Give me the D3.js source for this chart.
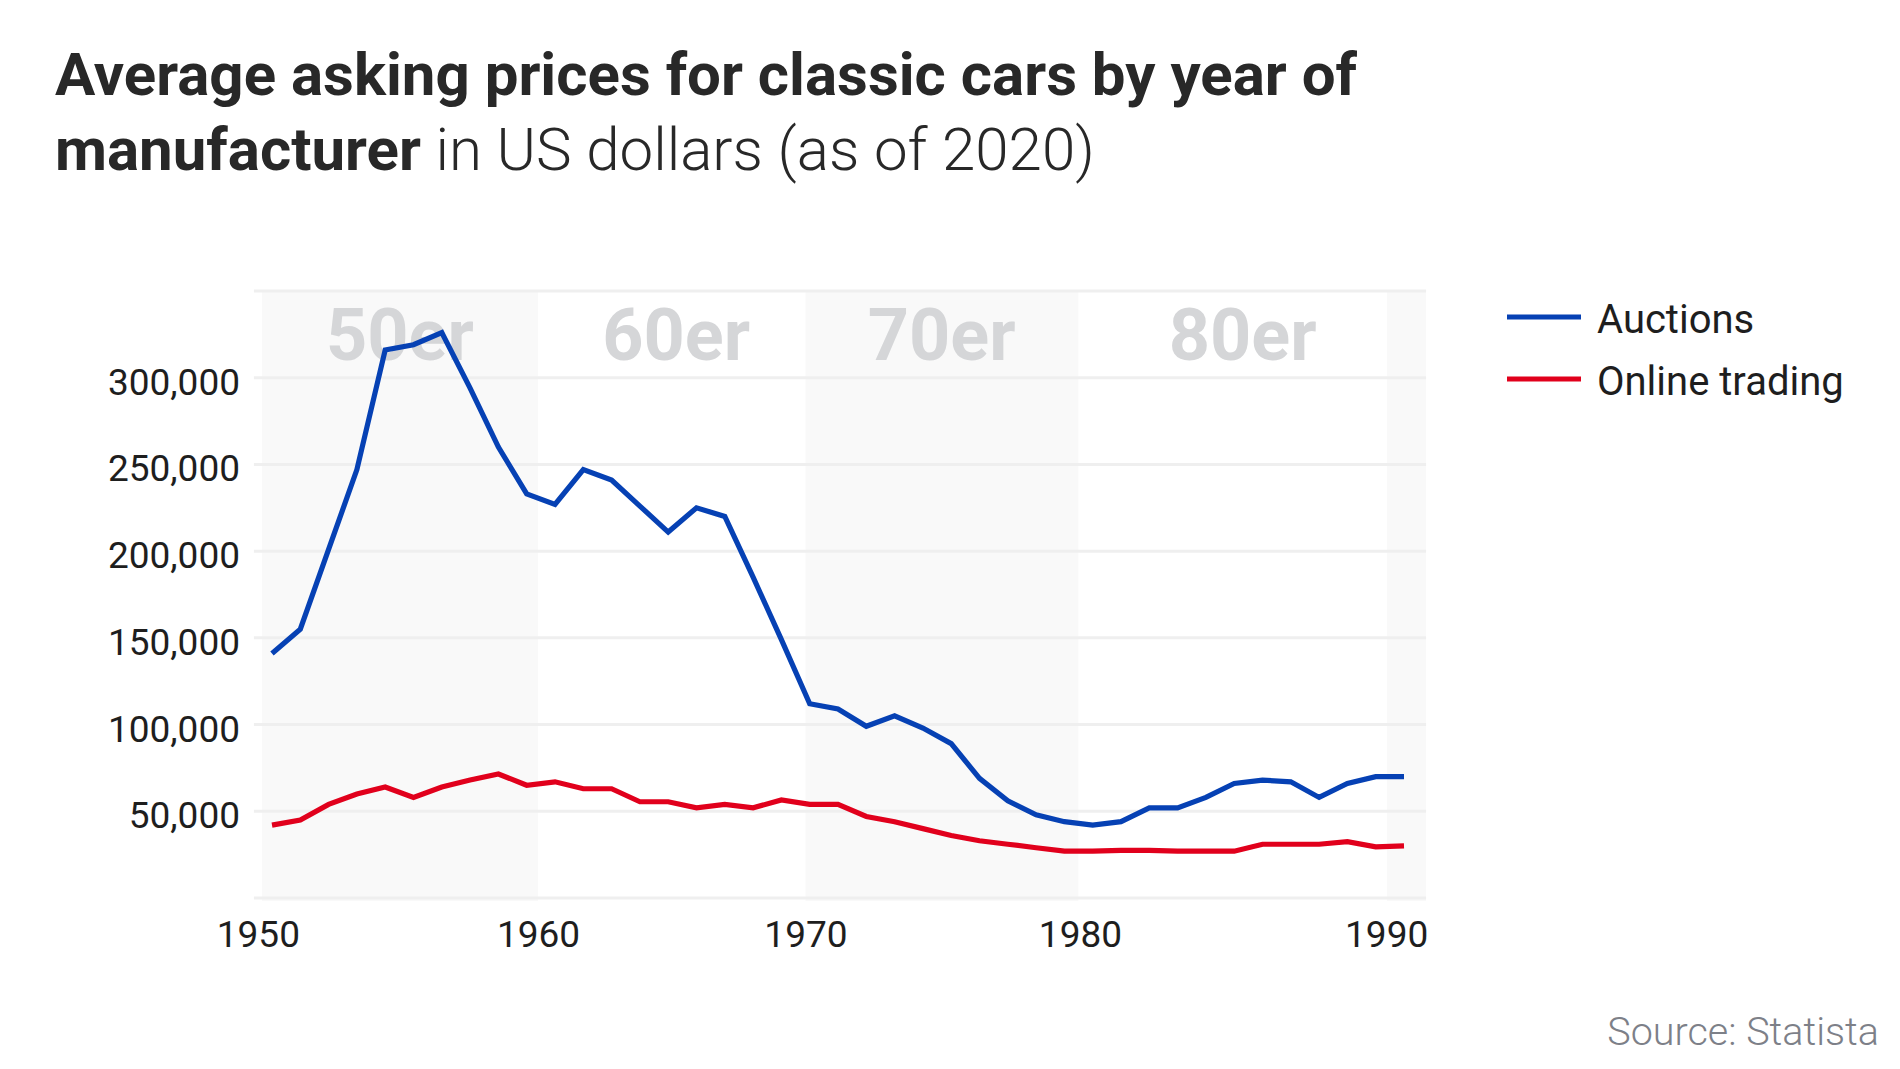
<!DOCTYPE html>
<html>
<head>
<meta charset="utf-8">
<script src="https://cdn.jsdelivr.net/npm/d3@7"></script>
<style>
  html, body { margin: 0; padding: 0; background: #fff; }
  svg { display: block; font-family: Roboto, "Noto Sans", sans-serif; }
</style>
</head>
<body>
<svg id="chart" width="1900" height="1069"></svg>
<script>
// ---- Data ----
const years = [1950,1951,1952,1953,1954,1955,1956,1957,1958,1959,
               1960,1961,1962,1963,1964,1965,1966,1967,1968,1969,
               1970,1971,1972,1973,1974,1975,1976,1977,1978,1979,
               1980,1981,1982,1983,1984,1985,1986,1987,1988,1989,1990];

const auctions = [141000,155000,201000,247000,316000,319000,326000,294000,260000,233000,
                  227000,247000,241000,226000,211000,225000,220000,185000,149000,112000,
                  109000,99000,105000,98000,89000,69000,56000,48000,44000,42000,
                  44000,52000,52000,58000,66000,68000,67000,58000,66000,70000,70000];

const onlineTrading = [42000,45000,54000,60000,64000,58000,64000,68000,71500,65000,
                       67000,63000,63000,55500,55500,52000,54000,52000,56500,54000,
                       54000,47000,44000,40000,36000,33000,31000,29000,27000,27000,
                       27500,27500,27000,27000,27000,31000,31000,31000,32500,29500,30000];

const seriesNames = ["Auctions", "Online trading"];
const seriesColors = ["#0641b4", "#e1001c"];

// decade bands (edges in year units) and their labels
const decadeEdges = [1949.65, 1959.4, 1968.85, 1978.5, 1989.4, 1990.78];
const decadeLabels = ["50er", "60er", "70er", "80er"];
const decadeLabelYears = [1954.52, 1964.28, 1973.66, 1984.3];

// x-axis tick positions (year units) and labels
const xTickValues = [1949.5, 1959.4, 1968.85, 1978.55, 1989.37];
const xTickLabels = ["1950", "1960", "1970", "1980", "1990"];

const yTickValues = [50000, 100000, 150000, 200000, 250000, 300000];
const yGridValues = [0, 50000, 100000, 150000, 200000, 250000, 300000, 350000];

// ---- Layout ----
const svg = d3.select("#chart");
const x = d3.scaleLinear().domain([1950, 1990]).range([272, 1404]);
const y = d3.scaleLinear().domain([0, 350000]).range([898, 291]);
const gridX0 = x(1949.36), gridX1 = x(1990.78);

// Title
const title = svg.append("text").attr("fill", "#282828").attr("font-size", 60);
title.append("tspan").attr("x", 55).attr("y", 95).attr("font-weight", 700)
  .text("Average asking prices for classic cars by year of");
title.append("tspan").attr("x", 55).attr("y", 170).attr("font-weight", 700).text("manufacturer");
title.append("tspan").attr("font-weight", 300).text(" in US dollars (as of 2020)");

// Decade bands
const bandIdx = d3.range(decadeEdges.length - 1);
svg.append("g").selectAll("rect").data(bandIdx).join("rect")
  .attr("x", i => x(decadeEdges[i]))
  .attr("width", i => x(decadeEdges[i + 1]) - x(decadeEdges[i]))
  .attr("y", y(350000))
  .attr("height", y(0) - y(350000) + 3)
  .attr("fill", i => i % 2 === 0 ? "#f9f9f9" : "#ffffff");

// Gridlines
svg.append("g").selectAll("line").data(yGridValues).join("line")
  .attr("x1", gridX0).attr("x2", gridX1)
  .attr("y1", d => y(d)).attr("y2", d => y(d))
  .attr("stroke", "#efefef").attr("stroke-width", 3);

// Decade labels
svg.append("g").selectAll("text").data(decadeLabels).join("text")
  .attr("x", (d, i) => x(decadeLabelYears[i]))
  .attr("y", 360)
  .attr("text-anchor", "middle")
  .attr("font-size", 72).attr("font-weight", 700)
  .attr("fill", "#d5d6d8")
  .text(d => d);

// Y axis
const yAxis = d3.axisLeft(y).tickValues(yTickValues).tickSize(0).tickPadding(0)
  .tickFormat(d3.format(","));
const gy = svg.append("g").attr("transform", "translate(240,0)").call(yAxis);
gy.select(".domain").remove();
gy.selectAll("text").attr("font-size", 37).attr("font-family", "Roboto")
  .attr("fill", "#1e1e1e").attr("dy", null).attr("y", 16.5);

// X axis
const xAxis = d3.axisBottom(x).tickValues(xTickValues).tickSize(0).tickPadding(0)
  .tickFormat((d, i) => xTickLabels[i]);
const gx = svg.append("g").call(xAxis);
gx.select(".domain").remove();
gx.selectAll("text").attr("font-size", 37).attr("font-family", "Roboto")
  .attr("fill", "#1e1e1e").attr("dy", null).attr("y", 947);

// Lines
const line = d3.line().x((d, i) => x(years[i])).y(d => y(d));
[[onlineTrading, 1], [auctions, 0]].forEach(([s, idx]) => {
  svg.append("path").datum(s)
    .attr("d", line)
    .attr("fill", "none")
    .attr("stroke", seriesColors[idx])
    .attr("stroke-width", 5.2)
    .attr("stroke-linejoin", "miter");
});

// Legend
const legend = svg.append("g").selectAll("g").data(seriesNames).join("g")
  .attr("transform", (d, i) => `translate(1507,${317 + i * 62})`);
legend.append("line").attr("x1", 0).attr("x2", 74).attr("y1", 0).attr("y2", 0)
  .attr("stroke", (d, i) => seriesColors[i]).attr("stroke-width", 5);
legend.append("text").attr("x", 90).attr("y", 16).attr("font-size", 40)
  .attr("fill", "#1e1e1e").text(d => d);

// Source
svg.append("text").attr("x", 1879).attr("y", 1045).attr("text-anchor", "end")
  .attr("font-size", 39.5).attr("font-weight", 300).attr("fill", "#7d8088")
  .text("Source: Statista");
</script>
</body>
</html>
